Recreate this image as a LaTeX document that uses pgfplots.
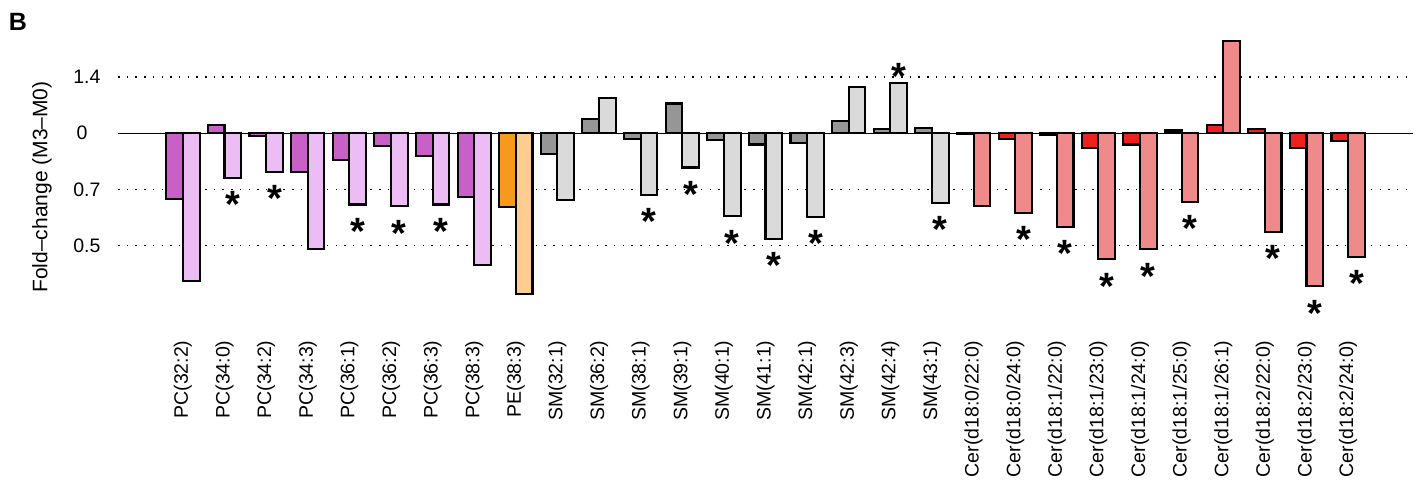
\documentclass[border=0pt]{standalone}
\usepackage{fontspec}
\setmainfont{Liberation Sans}
\usepackage{pgfplots}
\pgfplotsset{compat=1.18}
\definecolor{pcD}{RGB}{200,96,200}
\definecolor{pcL}{RGB}{236,188,244}
\definecolor{peD}{RGB}{247,153,28}
\definecolor{peL}{RGB}{252,205,142}
\definecolor{smD}{RGB}{150,150,150}
\definecolor{smL}{RGB}{218,218,218}
\definecolor{ceD}{RGB}{238,32,32}
\definecolor{ceL}{RGB}{240,138,138}
\newcommand\sigstar{{\fontsize{38}{38}\selectfont\bfseries *}}
\begin{document}
\begin{tikzpicture}[x=1pt,y=1pt]
\useasboundingbox (0,0) rectangle (1427,484);
\begin{axis}[
  at={(118pt,164pt)}, anchor=south west,
  scale only axis, width=1295pt, height=300pt,
  xmin=-1.56, xmax=29.56, ymin=-3.33, ymax=2.02,
  axis line style={draw=none}, major tick length=0pt, tick style={draw=none},
  /pgf/number format/assume math mode=true,
  tick label style={font=\fontsize{19.5}{22}\selectfont},
  ytick={-2,-1,0,1}, yticklabels={0.5,0.7,{0\rule{13pt}{0pt}},1.4},
  yticklabel shift=14pt,
  ymajorgrids, major grid style={black, line width=1.5pt, dash pattern=on 1.5pt off 7.2pt},
  extra y ticks={0}, extra y tick labels={},
  extra y tick style={ymajorgrids=true, major grid style={solid, black, line width=1.5pt}},
  xtick={0,...,28},
  xticklabels={PC(32:2),PC(34:0),PC(34:2),PC(34:3),PC(36:1),PC(36:2),PC(36:3),PC(38:3),PE(38:3),
    SM(32:1),SM(36:2),SM(38:1),SM(39:1),SM(40:1),SM(41:1),SM(42:1),SM(42:3),SM(42:4),SM(43:1),
    Cer(d18:0/22:0)\hspace{-10pt},Cer(d18:0/24:0)\hspace{-10pt},Cer(d18:1/22:0)\hspace{-10pt},Cer(d18:1/23:0)\hspace{-10pt},Cer(d18:1/24:0)\hspace{-10pt},
    Cer(d18:1/25:0)\hspace{-10pt},Cer(d18:1/26:1)\hspace{-10pt},Cer(d18:2/22:0)\hspace{-10pt},Cer(d18:2/23:0)\hspace{-10pt},Cer(d18:2/24:0)\hspace{-10pt}},
  xticklabel style={rotate=90, anchor=east},
  xticklabel shift=17pt,
  bar width=0.4,
]
% PC
\addplot[ybar, bar shift=-0.2, fill=pcD, draw=black, line width=2.1pt] coordinates {
(0,-1.17) (1,0.14) (2,-0.05) (3,-0.69) (4,-0.48) (5,-0.23) (6,-0.41) (7,-1.13)};
\addplot[ybar, bar shift=0.2, fill=pcL, draw=black, line width=2.1pt] coordinates {
(0,-2.63) (1,-0.79) (2,-0.69) (3,-2.07) (4,-1.27) (5,-1.30) (6,-1.27) (7,-2.35)};
% PE
\addplot[ybar, bar shift=-0.2, fill=peD, draw=black, line width=2.1pt] coordinates {(8,-1.32)};
\addplot[ybar, bar shift=0.2, fill=peL, draw=black, line width=2.1pt] coordinates {(8,-2.86)};
% SM
\addplot[ybar, bar shift=-0.2, fill=smD, draw=black, line width=2.1pt] coordinates {
(9,-0.375) (10,0.255) (11,-0.11) (12,0.53) (13,-0.125) (14,-0.20) (15,-0.17) (16,0.225) (17,0.077) (18,0.095)};
\addplot[ybar, bar shift=0.2, fill=smL, draw=black, line width=2.1pt] coordinates {
(9,-1.19) (10,0.63) (11,-1.10) (12,-0.61) (13,-1.48) (14,-1.88) (15,-1.49) (16,0.82) (17,0.89) (18,-1.24)};
% Cer
\addplot[ybar, bar shift=-0.2, fill=ceD, draw=black, line width=2.1pt] coordinates {
(19,-0.02) (20,-0.11) (21,-0.035) (22,-0.26) (23,-0.20) (24,0.05) (25,0.155) (26,0.077) (27,-0.27) (28,-0.13)};
\addplot[ybar, bar shift=0.2, fill=ceL, draw=black, line width=2.1pt] coordinates {
(19,-1.29) (20,-1.42) (21,-1.67) (22,-2.25) (23,-2.07) (24,-1.22) (25,1.65) (26,-1.76) (27,-2.73) (28,-2.20)};
% significance stars
\addplot[only marks, mark=none, nodes near coords={\sigstar},
  every node near coord/.style={anchor=center, inner sep=0pt, yshift=-9pt}] coordinates {
(1.2,-1.11) (2.2,-1.01) (4.2,-1.59) (5.2,-1.62) (6.2,-1.59)
(11.2,-1.42) (12.2,-0.93) (13.2,-1.80) (14.2,-2.20) (15.2,-1.81) (17.2,1.17) (18.2,-1.56)
(20.2,-1.74) (21.2,-1.99) (22.2,-2.57) (23.2,-2.39) (24.2,-1.54) (26.2,-2.08) (27.2,-3.05) (28.2,-2.52)};
\end{axis}
\node[rotate=90, anchor=center, inner sep=0pt] at (42,297) {\fontsize{21}{24}\selectfont Fold\textendash change (M3\textendash M0)};
\node[anchor=center, inner sep=0pt] at (18,462.5) {\fontsize{25}{25}\selectfont\bfseries B};
\end{tikzpicture}
\end{document}
